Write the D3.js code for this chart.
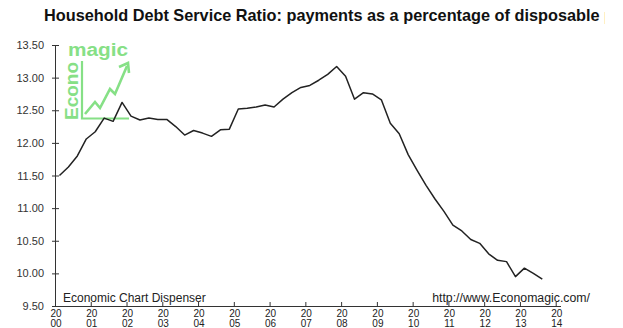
<!DOCTYPE html>
<html>
<head>
<meta charset="utf-8">
<script src="https://cdn.jsdelivr.net/npm/d3@7"></script>
<style>
  html, body { margin: 0; padding: 0; background: #fff; }
  svg { display: block; font-family: "Liberation Sans", Arial, sans-serif; }
</style>
</head>
<body>
<svg id="chart" width="623" height="328"></svg>
<script>
// ---- Data (quarterly, 2000Q1 .. 2013Q3) ----
const startYear = 2000;
const dsrValues = [
  11.50, 11.63, 11.80, 12.06,
  12.17, 12.38, 12.33, 12.62,
  12.41, 12.35, 12.38, 12.36,
  12.36, 12.25, 12.12, 12.19,
  12.15, 12.10, 12.20, 12.21,
  12.52, 12.53, 12.55, 12.58,
  12.55, 12.67, 12.77, 12.85,
  12.88, 12.96, 13.05, 13.17,
  13.02, 12.67, 12.77, 12.75,
  12.66, 12.30, 12.14, 11.82,
  11.58, 11.35, 11.14, 10.95,
  10.74, 10.65, 10.52, 10.46,
  10.30, 10.20, 10.18, 9.95,
  10.08, 10.00, 9.91
];
const yTickValues = [9.5, 10, 10.5, 11, 11.5, 12, 12.5, 13, 13.5];
const xTickYears = [2000, 2001, 2002, 2003, 2004, 2005, 2006, 2007, 2008, 2009, 2010, 2011, 2012, 2013, 2014];
const titleText = "Household Debt Service Ratio: payments as a percentage of disposable personal income";
const titlePrefix = "Household Debt Service Ratio: payments as a percentage of disposable ";
const leftNote = "Economic Chart Dispenser";
const rightNote = "http://www.Economagic.com/";

const data = dsrValues.map((v, i) => ({ t: startYear + i / 4 + 0.125, v }));

const svg = d3.select("#chart");
const x = d3.scaleLinear().domain([2000, 2014]).range([55, 555.7]);
const y = d3.scaleLinear().domain([9.5, 13.5]).range([306, 45]);

// the original image is cut a little before the right edge
svg.append("defs").append("clipPath").attr("id", "titleClip")
  .append("rect").attr("x", 0).attr("y", 0).attr("width", 605).attr("height", 40);

// ---- Title (sized so that it runs off the right edge like the original) ----
const title = svg.append("text")
  .attr("x", 44).attr("y", 21)
  .attr("font-weight", "bold").attr("font-size", 16).attr("fill", "#111")
  .attr("clip-path", "url(#titleClip)")
  .text(titlePrefix);
const pw = title.node().getComputedTextLength();
title.attr("font-size", 16 * 556 / pw).text(titleText);

// ---- Logo ----
const green = "#86e086";
const logo = svg.append("g");
logo.append("text")
  .attr("transform", "translate(77.5,120) rotate(-90)")
  .attr("font-weight", "bold").attr("font-size", 19).attr("fill", green)
  .attr("textLength", 58).attr("lengthAdjust", "spacingAndGlyphs")
  .text("Econo");
logo.append("text")
  .attr("x", 68).attr("y", 55.5)
  .attr("font-weight", "bold").attr("font-size", 18).attr("fill", green)
  .attr("textLength", 60).attr("lengthAdjust", "spacingAndGlyphs")
  .text("magic");
logo.append("path")
  .attr("d", "M82,61 L82,118.5 L129,118.5")
  .attr("fill", "none").attr("stroke", green).attr("stroke-width", 2.2);
logo.append("path")
  .attr("d", "M85,114 L95,102 L100,108 L110,89 L115,94 L127,66")
  .attr("fill", "none").attr("stroke", green).attr("stroke-width", 2.6)
  .attr("stroke-linejoin", "miter");
logo.append("path")
  .attr("d", "M119,67 L128,63 L129,73")
  .attr("fill", "none").attr("stroke", green).attr("stroke-width", 2.6);

// ---- Y axis ----
const yAxis = svg.append("g")
  .attr("transform", "translate(55,0)")
  .call(d3.axisLeft(y).tickValues(yTickValues).tickFormat(d3.format(".2f")).tickSize(3).tickPadding(8));
yAxis.select(".domain").attr("stroke", "#333").attr("d", `M0.5,${y(13.5)}V${y(9.5) + 0.5}`);
yAxis.selectAll(".tick line").attr("stroke", "#333").attr("x1", 4).attr("x2", -3);
yAxis.selectAll(".tick text")
  .attr("font-family", "'Liberation Sans', Arial, sans-serif")
  .attr("font-size", 11).attr("fill", "#333").attr("x", -11);

// ---- X axis ----
const xAxis = svg.append("g")
  .attr("transform", "translate(0,306)")
  .call(d3.axisBottom(x).tickValues(xTickYears).tickSize(0).tickFormat(""));
xAxis.select(".domain").attr("stroke", "#333").attr("d", "M55,0.5H561");
xAxis.selectAll(".tick line").attr("stroke", "#333").attr("y1", -4).attr("y2", 0.5);
xAxis.selectAll(".tick text").remove();
xAxis.selectAll(".tick").each(function (d) {
  const s = String(d);
  const g = d3.select(this);
  g.append("text").attr("text-anchor", "middle").attr("x", 0.5).attr("y", 10.8)
    .attr("font-family", "'Liberation Sans', Arial, sans-serif")
    .attr("font-size", 10).attr("fill", "#222").text(s.slice(0, 2));
  g.append("text").attr("text-anchor", "middle").attr("x", 0.5).attr("y", 20.8)
    .attr("font-family", "'Liberation Sans', Arial, sans-serif")
    .attr("font-size", 10).attr("fill", "#222").text(s.slice(2));
});

// ---- Notes ----
svg.append("text").attr("x", 63).attr("y", 302)
  .attr("font-size", 12).attr("fill", "#222").text(leftNote);
svg.append("text").attr("x", 590).attr("y", 302).attr("text-anchor", "end")
  .attr("font-size", 12.3).attr("fill", "#222").text(rightNote);

// ---- Line ----
svg.append("path")
  .datum(data)
  .attr("fill", "none").attr("stroke", "#222").attr("stroke-width", 1.5)
  .attr("stroke-linejoin", "round")
  .attr("d", d3.line().x(d => x(d.t)).y(d => y(d.v)));
</script>
</body>
</html>
